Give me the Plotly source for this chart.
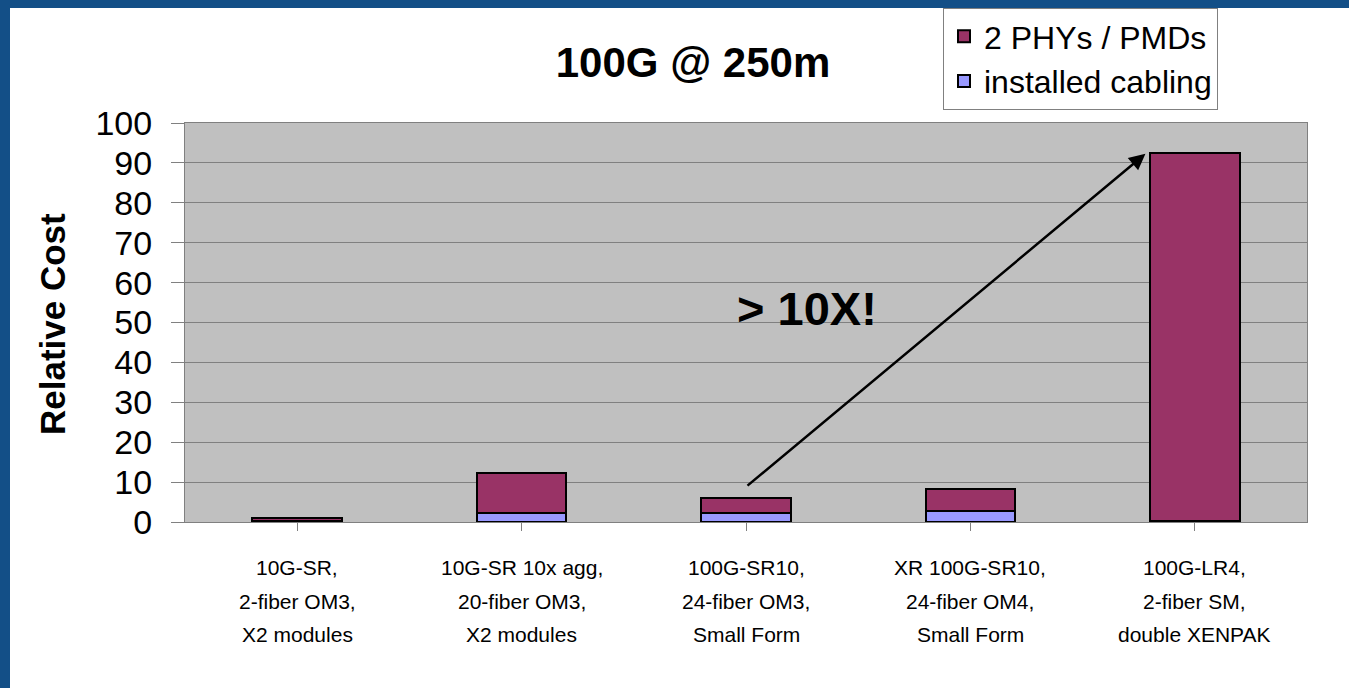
import plotly.graph_objects as go

categories = ["10G-SR,<br>2-fiber OM3,<br>X2 modules",
              "10G-SR 10x agg,<br>20-fiber OM3,<br>X2 modules",
              "100G-SR10,<br>24-fiber OM3,<br>Small Form",
              "XR 100G-SR10,<br>24-fiber OM4,<br>Small Form",
              "100G-LR4,<br>2-fiber SM,<br>double XENPAK"]
cabling = [0.3, 2.3, 2.3, 2.8, 0.3]
phys = [0.7, 10.1, 3.6, 5.4, 92.2]
y_ticks = [0, 10, 20, 30, 40, 50, 60, 70, 80, 90, 100]

FONT = "Liberation Sans, Arial, sans-serif"
W, H = 1349, 688
L, R, T, B = 185, 42, 123, 166
PW, PH = W - L - R, H - T - B

def px_x(p):
    return (p - L) / PW

def px_y(p):
    return (H - B - p) / PH

fig = go.Figure()
fig.add_trace(go.Bar(x=list(range(len(categories))), y=cabling, name="installed cabling",
                     marker=dict(color="#9999FF", line=dict(color="#000000", width=2)),
                     width=0.4, legendrank=2))
fig.add_trace(go.Bar(x=list(range(len(categories))), y=phys, name="2 PHYs / PMDs",
                     marker=dict(color="#993366", line=dict(color="#000000", width=2)),
                     width=0.4, legendrank=1))

annotations = []
# x category labels, one annotation per line
line_offsets = [567, 601, 634]
for i, cat in enumerate(categories):
    for j, line in enumerate(cat.split("<br>")):
        annotations.append(dict(x=i, y=px_y(line_offsets[j]), xref="x", yref="paper",
                                text=line, showarrow=False, xanchor="center", yanchor="middle",
                                font=dict(family=FONT, size=21, color="#000000")))
# y axis title
annotations.append(dict(x=px_x(52), y=px_y(324), xref="paper", yref="paper",
                        xanchor="center", yanchor="middle",
                        text="<b>Relative Cost</b>", textangle=-90, showarrow=False,
                        font=dict(family=FONT, size=35, color="#000000")))
# arrow
annotations.append(dict(x=3.78, y=92.3, xref="x", yref="y", ax=2.0, ay=8.8, axref="x", ayref="y",
                        text="", showarrow=True, arrowhead=2, arrowsize=1.3, arrowwidth=2.5,
                        arrowcolor="#000000"))
annotations.append(dict(x=2.27, y=53.5, xref="x", yref="y", text="<b>> 10X!</b>", showarrow=False,
                        font=dict(family=FONT, size=47, color="#000000")))

shapes = [
    dict(type="rect", xref="paper", yref="paper", x0=px_x(0), x1=px_x(10), y0=px_y(H), y1=px_y(0),
         fillcolor="#134F87", line=dict(width=0), layer="above"),
    dict(type="rect", xref="paper", yref="paper", x0=px_x(0), x1=px_x(W), y0=px_y(8), y1=px_y(0),
         fillcolor="#134F87", line=dict(width=0), layer="above"),
]

fig.update_layout(
    width=W, height=H,
    margin=dict(l=L, r=R, t=T, b=B, autoexpand=False),
    barmode="stack",
    paper_bgcolor="white", plot_bgcolor="#C0C0C0",
    title=dict(text="<b>100G @ 250m</b>", x=px_x(693), y=1 - 62 / H, xanchor="center", yanchor="middle",
               xref="paper", yref="container",
               font=dict(family=FONT, size=42, color="#000000")),
    font=dict(family=FONT, color="#000000"),
    legend=dict(x=px_x(943), y=px_y(8), xanchor="left", yanchor="top",
                bgcolor="white", bordercolor="#808080", borderwidth=1,
                traceorder="normal",
                font=dict(family=FONT, size=32, color="#000000")),
    annotations=annotations,
    shapes=shapes,
    bargap=0.6,
)
fig.update_xaxes(range=[-0.5, 4.5], tickvals=list(range(len(categories))), showticklabels=False,
                 ticks="outside", tickson="boundaries", ticklen=8, tickcolor="#808080",
                 showline=True, linecolor="#808080", linewidth=1, mirror=True,
                 showgrid=False, zeroline=False)
fig.update_yaxes(range=[0, 100], tickvals=y_ticks, ticks="outside", ticklen=13, tickcolor="#808080",
                 tickfont=dict(family=FONT, size=34, color="#000000"), ticklabelstandoff=12,
                 showline=True, linecolor="#808080", linewidth=1, mirror=True,
                 showgrid=True, gridcolor="#808080", gridwidth=1, zeroline=True,
                 zerolinecolor="#404040", zerolinewidth=1)

fig.write_html("out.html", config={"displayModeBar": False},
               post_script="document.body.style.margin='0';document.body.style.overflow='hidden';")
